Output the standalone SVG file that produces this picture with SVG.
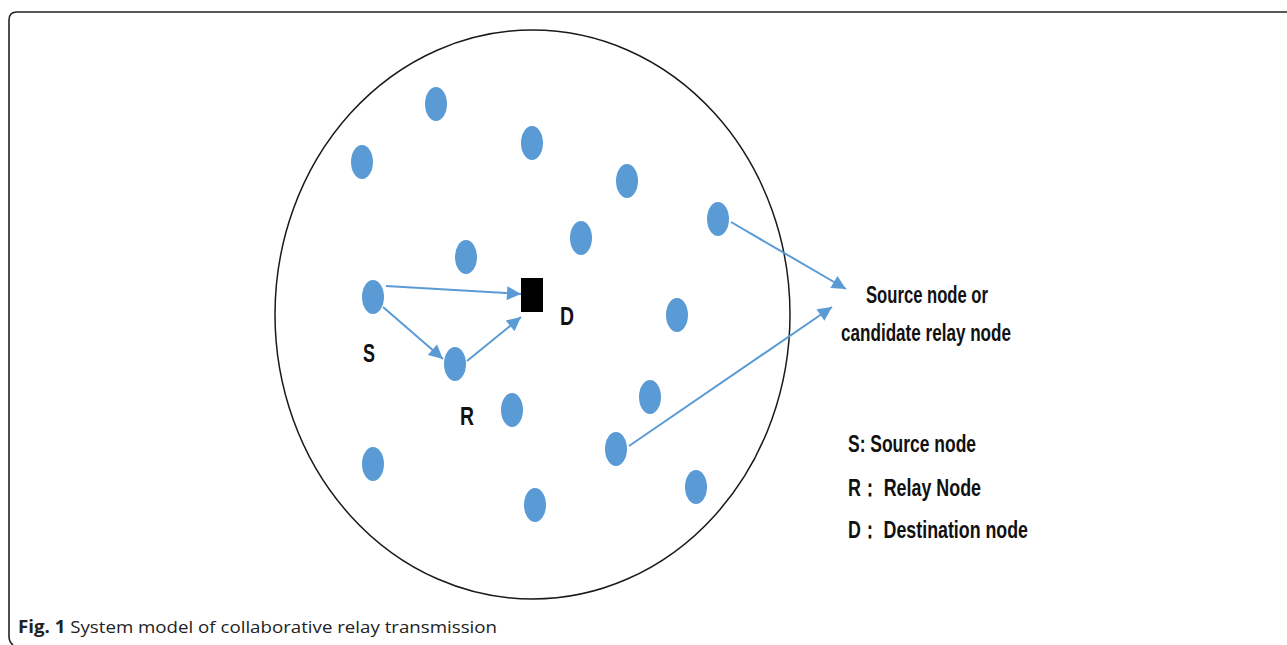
<svg xmlns="http://www.w3.org/2000/svg" width="1287" height="645" viewBox="0 0 1287 645">
  <style>
    .frame { fill: none; stroke: #222; stroke-width: 1.6; }
    .region { fill: none; stroke: #1a1a1a; stroke-width: 1.5; }
    .node { fill: #5b9bd5; }
    .dest { fill: #000; }
    .link { stroke: #5b9bd5; stroke-width: 2; fill: none; marker-end: url(#arrow); }
    .lbl { font-family: "Liberation Sans Narrow", "Liberation Sans", sans-serif; font-size: 24px; font-weight: bold; fill: #111; }
    .tag { font-family: "Liberation Sans Narrow", "Liberation Sans", sans-serif; font-size: 25px; font-weight: bold; fill: #111; }
    .cap { font-family: "Open Sans", "Liberation Sans", sans-serif; font-size: 17px; fill: #222; }
  </style>
  <defs>
    <marker id="arrow" viewBox="0 0 10 10" refX="10" refY="5" markerWidth="8" markerHeight="7" markerUnits="strokeWidth" orient="auto">
      <path d="M0,0 L10,5 L0,10 Z" fill="#5b9bd5"/>
    </marker>
  </defs>

  <rect width="1287" height="645" fill="#fff"/>

  <!-- page frame -->
  <path class="frame" d="M1287,12 H17 Q9,12 9,20 V636 Q9,642 13,645"/>

  <!-- coverage area -->
  <ellipse id="area" class="region" cx="532.5" cy="314.5" rx="257.5" ry="284.5"/>

  <!-- connectors -->
  <g id="connectors">
    <line class="link" x1="386" y1="286" x2="521" y2="294"/>
    <line class="link" x1="383" y1="307" x2="443" y2="359"/>
    <line class="link" x1="467" y1="361" x2="521" y2="317"/>
    <line class="link" x1="731" y1="222" x2="846" y2="289"/>
    <line class="link" x1="629" y1="446" x2="832" y2="307"/>
  </g>

  <!-- nodes -->
  <g id="n1"><ellipse class="node" cx="436" cy="104" rx="11" ry="17"/></g>
  <g id="n2"><ellipse class="node" cx="362" cy="162" rx="11" ry="17"/></g>
  <g id="n3"><ellipse class="node" cx="532" cy="143" rx="11" ry="17"/></g>
  <g id="n4"><ellipse class="node" cx="627" cy="181" rx="11" ry="17"/></g>
  <g id="n5"><ellipse class="node" cx="718" cy="219" rx="11" ry="17"/></g>
  <g id="n6"><ellipse class="node" cx="466" cy="257" rx="11" ry="17"/></g>
  <g id="n7"><ellipse class="node" cx="581" cy="238" rx="11" ry="17"/></g>
  <g id="source"><ellipse class="node" cx="373" cy="297" rx="11" ry="17"/></g>
  <g id="n9"><ellipse class="node" cx="677" cy="315" rx="11" ry="17"/></g>
  <g id="relay"><ellipse class="node" cx="455" cy="364" rx="11" ry="17"/></g>
  <g id="n11"><ellipse class="node" cx="512" cy="410" rx="11" ry="17"/></g>
  <g id="n12"><ellipse class="node" cx="650" cy="397" rx="11" ry="17"/></g>
  <g id="n13"><ellipse class="node" cx="616" cy="449" rx="11" ry="17"/></g>
  <g id="n14"><ellipse class="node" cx="373" cy="464" rx="11" ry="17"/></g>
  <g id="n15"><ellipse class="node" cx="535" cy="505" rx="11" ry="17"/></g>
  <g id="n16"><ellipse class="node" cx="696" cy="487" rx="11" ry="17"/></g>
  <g id="destination"><rect class="dest" x="521" y="278" width="22" height="34"/></g>

  <!-- node labels -->
  <g id="labels">
    <text class="tag" x="363" y="362" textLength="12" lengthAdjust="spacingAndGlyphs">S</text>
    <text class="tag" x="460" y="425" textLength="14" lengthAdjust="spacingAndGlyphs">R</text>
    <text class="tag" x="560" y="325" textLength="14" lengthAdjust="spacingAndGlyphs">D</text>
  </g>

  <!-- callout -->
  <g id="callout">
    <text class="lbl" x="866" y="303" textLength="122" lengthAdjust="spacingAndGlyphs">Source node or</text>
    <text class="lbl" x="841" y="341" textLength="170" lengthAdjust="spacingAndGlyphs">candidate relay node</text>
  </g>

  <!-- legend -->
  <g id="legend">
    <text class="lbl" x="848" y="452" textLength="128" lengthAdjust="spacingAndGlyphs">S: Source node</text>
    <text class="lbl" x="848" y="496" textLength="133" lengthAdjust="spacingAndGlyphs">R：  Relay Node</text>
    <text class="lbl" x="848" y="538" textLength="180" lengthAdjust="spacingAndGlyphs">D：  Destination node</text>
  </g>

  <!-- caption -->
  <text class="cap" x="18" y="633" textLength="479" lengthAdjust="spacingAndGlyphs"><tspan font-weight="bold">Fig. 1</tspan> System model of collaborative relay transmission</text>
</svg>
